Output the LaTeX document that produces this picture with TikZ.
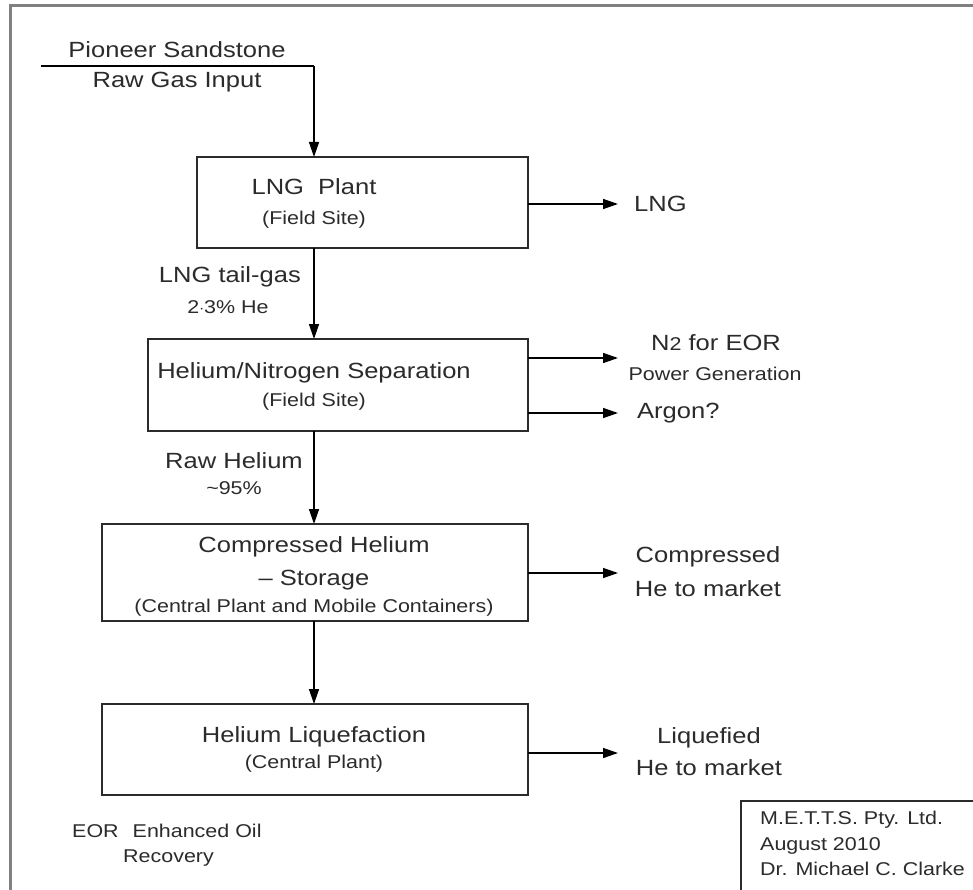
\documentclass[tikz,border=0pt]{standalone}
\usepackage{fontspec}
\setmainfont{Liberation Sans}[FakeStretch=1.16]
\usetikzlibrary{arrows.meta}
\newcommand\mainsz{\fontsize{22}{26}\selectfont}
\newcommand\smallsz{\fontsize{18.5}{22}\selectfont}
\definecolor{inkc}{HTML}{2B2B2B}
\definecolor{framec}{HTML}{808080}
\tikzset{
  box/.style={draw=inkc, line width=1.8pt, rectangle, anchor=north west, inner sep=0pt, outer sep=0pt},
  arr/.style={draw=black, line width=1.4pt, -{Triangle[length=15pt,width=10pt]}},
  plain/.style={draw=black, line width=1.4pt},
  big/.style={font=\mainsz, text=inkc, inner sep=0pt},
  small/.style={font=\smallsz, text=inkc, inner sep=0pt},
}
\begin{document}
\begin{tikzpicture}[x=1pt,y=-1pt]
\useasboundingbox (0,0) rectangle (973,890);
\clip (0,0) rectangle (973,890);
\fill[white] (0,0) rectangle (973,890);
% outer frame
\draw[framec, line width=3pt] (990,5.5) -- (10.5,5.5) -- (10.5,900);

% column for vertical flow
\coordinate (col) at (314,0);
\coordinate (inL) at (41,66);
\coordinate (inC) at (314,66);

% boxes
\node[box, minimum width=331, minimum height=91] (b1) at (197,157) {};
\node[box, minimum width=380, minimum height=92] (b2) at (148,339) {};
\node[box, minimum width=426, minimum height=97] (b3) at (102,524) {};
\node[box, minimum width=426, minimum height=91] (b4) at (102,704) {};
\node[box, minimum width=300, minimum height=150] (sig) at (741,801) {};

% input texts
\node[big, anchor=base] (pio) at (177,57.5) {Pioneer Sandstone};
\node[big, anchor=base] (raw) at (177,88) {Raw Gas Input};

% box texts
\node[big, anchor=base] (t1a) at (314,195) {LNG\ \ Plant};
\node[small, anchor=base] (t1b) at (314,225) {(Field Site)};
\node[big, anchor=base] (t2a) at (314,378) {Helium/Nitrogen Separation};
\node[small, anchor=base] (t2b) at (314,406) {(Field Site)};
\node[big, anchor=base] (t3a) at (314,552) {Compressed Helium};
\node[big, anchor=base] (t3b) at (314,585) {-- Storage};
\node[small, anchor=base] (t3c) at (314,612.5) {(Central Plant and Mobile Containers)};
\node[big, anchor=base] (t4a) at (314,742) {Helium Liquefaction};
\node[small, anchor=base] (t4b) at (314,768) {(Central Plant)};

% flow labels
\node[big, anchor=base east] (lt) at (301,283) {LNG tail-gas};
\node[small, anchor=base] (lth) at (228,313) {2$\cdot$3\% He};
\node[big, anchor=base east] (rh) at (303,468) {Raw Helium};
\node[small, anchor=base] (rhp) at (234,494) {\textasciitilde 95\%};

% outputs
\coordinate (o1) at (618,204);
\coordinate (o2) at (618,358);
\coordinate (o3) at (618,413);
\coordinate (o4) at (618,573);
\coordinate (o5) at (618,753);
\node[big, anchor=base west] (lng) at (634,212) {LNG};
\node[big, anchor=base] (n2) at (716,350) {N{\smallsz 2} for EOR};
\node[small, anchor=base] (pg) at (715,380) {Power Generation};
\node[big, anchor=base west] (ar) at (637,418) {Argon?};
\node[big, anchor=base] (cpa) at (708,562.5) {Compressed};
\node[big, anchor=base] (cpb) at (708,596) {He to market};
\node[big, anchor=base] (lqa) at (709,743) {Liquefied};
\node[big, anchor=base] (lqb) at (709,775) {He to market};

% notes
\node[small, anchor=base west] (eor) at (72,837) {EOR\hspace{14pt}Enhanced Oil};
\node[small, anchor=base west] (rec) at (123,862.5) {Recovery};
\node[small, anchor=base west] (s1) at (760,824) {M.E.T.T.S. Pty. Ltd.};
\node[small, anchor=base west] (s2) at (760,850) {August 2010};
\node[small, anchor=base west] (s3) at (760,875) {Dr. Michael C. Clarke};

% connectors
\draw[plain] (inL) -- (inC);
\draw[arr] (inC) -- (b1.north -| col);
\draw[arr] (b1.south -| col) -- (b2.north -| col);
\draw[arr] (b2.south -| col) -- (b3.north -| col);
\draw[arr] (b3.south -| col) -- (b4.north -| col);
\draw[arr] (b1.east |- o1) -- (o1);
\draw[arr] (b2.east |- o2) -- (o2);
\draw[arr] (b2.east |- o3) -- (o3);
\draw[arr] (b3.east |- o4) -- (o4);
\draw[arr] (b4.east |- o5) -- (o5);
\end{tikzpicture}
\end{document}
